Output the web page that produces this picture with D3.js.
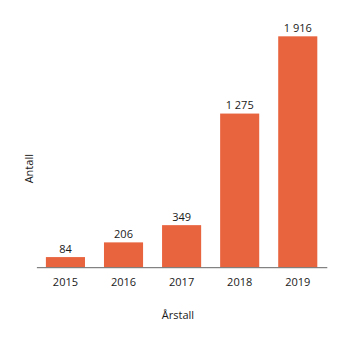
<!DOCTYPE html>
<html>
<head>
<meta charset="utf-8">
<script src="https://cdn.jsdelivr.net/npm/d3@7"></script>
<style>
  html, body { margin: 0; padding: 0; background: #fff; }
  text { font-family: "Open Sans", sans-serif; fill: #1a1a1a; }
</style>
</head>
<body>
<svg id="chart" width="345" height="341"></svg>
<script>
// Antall per år
const years = ["2015", "2016", "2017", "2018", "2019"];
const counts = [84, 206, 349, 1275, 1916];
const xTitle = "Årstall";
const yTitle = "Antall";

const plotLeft = 36.4, plotRight = 326.8, plotBase = 267.2, plotTop = 26.2;

const svg = d3.select("#chart");
const nb = d3.formatLocale({ decimal: ",", thousands: "\u00a0", grouping: [3], currency: ["", " kr"] });
const fmt = nb.format(",d");

const x = d3.scaleBand()
  .domain(years)
  .range([plotLeft, plotRight])
  .paddingInner(0.327)
  .paddingOuter(0.1635);

const y = d3.scaleLinear()
  .domain([0, 2000])
  .range([plotBase, plotTop]);

const data = years.map((yr, i) => ({ year: yr, value: counts[i] }));

svg.append("g")
  .selectAll("rect")
  .data(data)
  .join("rect")
  .attr("x", d => x(d.year))
  .attr("width", x.bandwidth())
  .attr("y", d => y(d.value))
  .attr("height", d => y(0) - y(d.value))
  .attr("fill", "#e8643f");

// baseline
const xAxis = svg.append("g")
  .attr("transform", `translate(0,${plotBase})`)
  .call(d3.axisBottom(x).tickSize(0).tickPadding(0).tickSizeOuter(0));
xAxis.select(".domain").attr("stroke", "#666").attr("stroke-width", 1);
xAxis.selectAll(".tick text")
  .attr("dy", null)
  .attr("y", 19.3)
  .style("font-size", "11px")
  .style("font-family", "'Open Sans', sans-serif")
  .attr("fill", "#1a1a1a");

// value labels
svg.append("g")
  .selectAll("text")
  .data(data)
  .join("text")
  .attr("x", d => x(d.year) + x.bandwidth() / 2)
  .attr("y", d => y(d.value) - 4.5)
  .attr("text-anchor", "middle")
  .style("font-size", "11px")
  .text(d => fmt(d.value));

svg.append("text")
  .attr("x", 178)
  .attr("y", 319.4)
  .attr("text-anchor", "middle")
  .style("font-size", "11px")
  .text(xTitle);

svg.append("text")
  .attr("transform", "translate(32.5,168.7) rotate(-90)")
  .attr("text-anchor", "middle")
  .style("font-size", "11px")
  .text(yTitle);
</script>
</body>
</html>
